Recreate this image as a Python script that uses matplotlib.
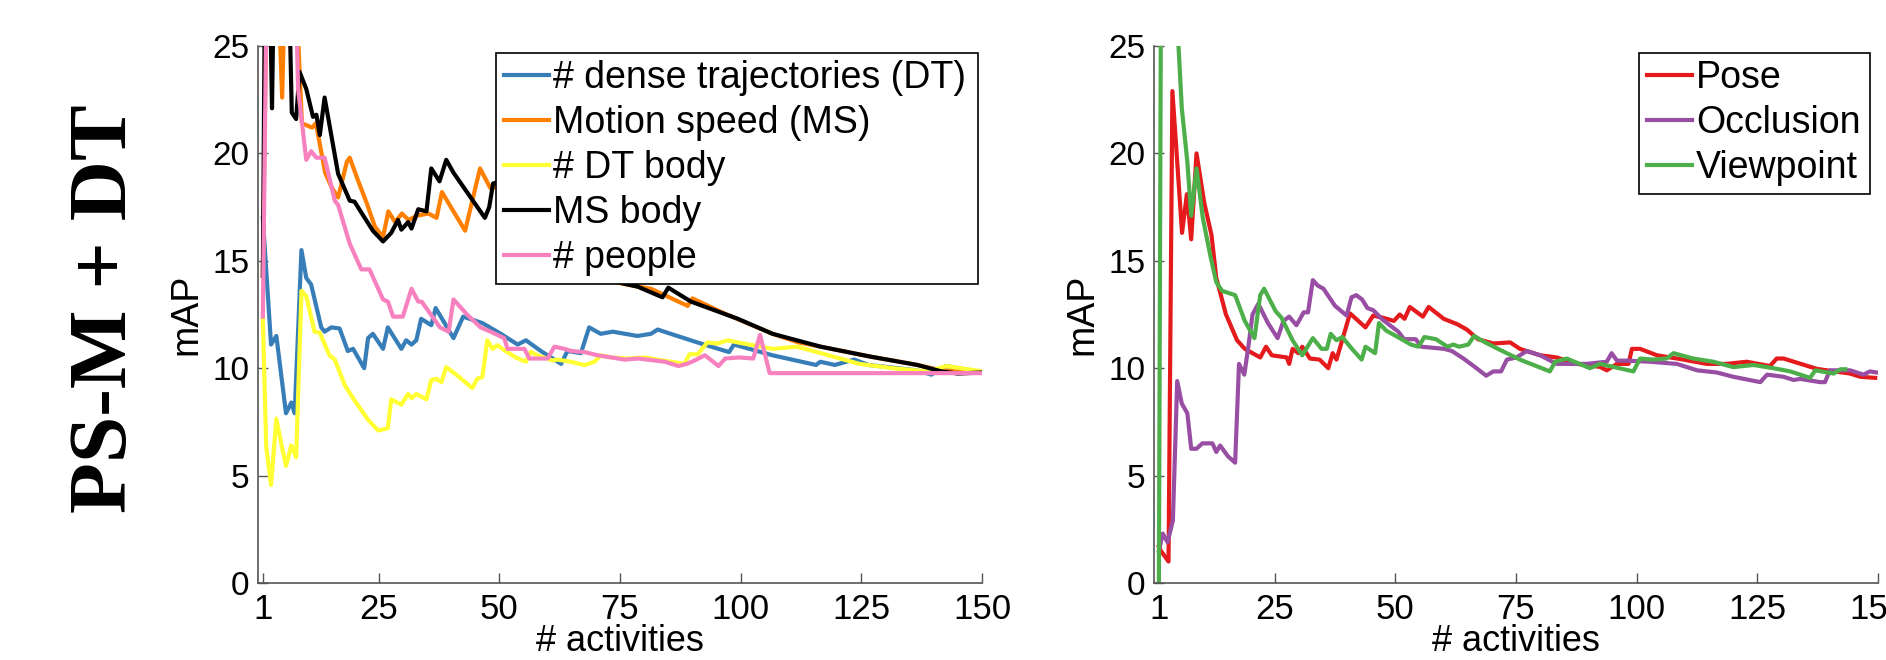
import matplotlib
matplotlib.use("Agg")
import matplotlib.pyplot as plt

plt.rcParams['font.family'] = ['Liberation Sans', 'DejaVu Sans']

# ---- left panel: PS-M + DT cues ----
dt_x = [1, 2.7, 3.8, 5.8, 6.9, 7.6, 9, 10, 11, 13.1, 13.8, 15.2, 16.9, 18.6, 19.7, 22, 22.8,
        23.8, 25.9, 26.9, 29.7, 30.7, 31.8, 32.8, 33.8, 35.9, 36.8, 40.5, 42.5, 46.5, 50.3,
        53.8, 55.5, 58.6, 62.8, 64.1, 66.9, 68.6, 71, 73.5, 78.6, 81.4, 82.8, 85.5, 91.7,
        97.6, 98.6, 106.6, 115.6, 116.5, 119.5, 123.5, 126.5, 136.5, 139.5, 142.5, 150]
dt_y = [17.0, 11.1, 11.5, 7.9, 8.4, 7.9, 15.5, 14.2, 13.9, 11.9, 11.7, 11.9, 11.85, 10.8, 10.9,
        10.0, 11.4, 11.6, 10.9, 11.9, 10.9, 11.3, 11.1, 11.3, 12.3, 12.0, 12.8, 11.4, 12.4,
        12.1, 11.6, 11.1, 11.3, 10.8, 10.2, 10.8, 10.7, 11.9, 11.6, 11.7, 11.5, 11.6, 11.8,
        11.6, 11.15, 10.75, 11.1, 10.6, 10.15, 10.3, 10.15, 10.4, 10.15, 9.9, 9.7, 10.1, 9.8]

ms_x = [1, 2, 4.3, 5, 5.6, 7.8, 9.1, 11.2, 12, 13.9, 15.3, 16.6, 18.4, 19, 20.7, 22.5, 24.2,
        25.9, 27, 28.4, 29.8, 31.2, 32.9, 35.3, 37, 38.1, 42.9, 46, 48.1, 52, 58, 64, 70,
        74.1, 78.6, 81.4, 89, 90, 96.6, 106.6, 112, 116.6, 126.6, 136.6, 141.6, 150]
ms_y = [14.3, 32, 27, 22.6, 28, 28, 21.4, 21.2, 21.4, 19.1, 18.4, 17.95, 19.6, 19.8, 18.75,
        17.7, 16.6, 16.1, 17.3, 16.8, 17.2, 16.9, 17.1, 17.2, 17.0, 18.2, 16.4, 19.3, 18.4,
        18.5, 17.0, 15.8, 14.8, 14.0, 13.8, 13.7, 12.9, 13.25, 12.55, 11.6, 11.2, 11.0,
        10.55, 10.15, 9.9, 9.8]

dtb_x = [1, 1.7, 2.7, 3.8, 4.8, 5.8, 6.9, 7.9, 9, 10, 11.7, 12.8, 14.8, 15.9, 18, 20, 22.8,
         24.9, 26.9, 27.6, 29.7, 31.1, 31.8, 32.8, 34.9, 35.9, 37, 38, 39, 41.6, 44.4, 45.4,
         46.5, 47.5, 48.6, 49.6, 51, 53.4, 55.5, 56.5, 57.9, 61, 62, 64.8, 67.6, 69.7, 71,
         73.2, 76.6, 80, 85.6, 88.3, 89.4, 91.1, 93.1, 95.2, 97.3, 99.4, 106.6, 111.6, 116.6,
         124.6, 131.6, 138.6, 142.6, 150]
dtb_y = [12.3, 6.35, 4.56, 7.65, 6.5, 5.45, 6.4, 5.85, 13.6, 13.35, 11.7, 11.65, 10.6, 10.4,
         9.2, 8.5, 7.6, 7.1, 7.2, 8.55, 8.3, 8.8, 8.6, 8.8, 8.55, 9.45, 9.5, 9.35, 10.05, 9.6,
         9.07, 9.5, 9.6, 11.3, 10.9, 11.07, 10.84, 10.5, 10.3, 10.76, 10.6, 10.36, 10.4, 10.3,
         10.14, 10.3, 10.6, 10.5, 10.45, 10.5, 10.3, 10.2, 10.65, 10.65, 11.2, 11.15, 11.3,
         11.2, 10.9, 11.0, 10.7, 10.2, 10.0, 9.85, 10.1, 9.85]

msb_x = [1, 1.5, 2.3, 2.9, 3.4, 6.2, 7.0, 7.9, 8.6, 10, 11.4, 12.1, 12.8, 13.8, 16.6, 19, 20,
         22.1, 23.8, 25.9, 27.6, 29, 29.7, 31.1, 31.8, 33.2, 34.9, 35.9, 37.6, 39, 40.5, 47,
         47.9, 48.7, 52, 60, 68, 75.5, 78.6, 83.8, 85, 89.7, 99.4, 106.6, 116.6, 126.6,
         136.6, 141.6, 145, 150]
msb_y = [14.3, 30, 30, 22.1, 30, 30, 21.9, 21.6, 23.8, 23.0, 21.7, 21.8, 20.85, 22.6, 19.05,
         17.8, 17.75, 17.0, 16.4, 15.9, 16.3, 16.9, 16.45, 16.8, 16.5, 17.4, 17.3, 19.3,
         18.7, 19.7, 19.1, 17.0, 17.5, 18.6, 18.8, 16.5, 15.0, 13.95, 13.8, 13.3, 13.75,
         13.1, 12.3, 11.6, 11.0, 10.55, 10.15, 9.85, 9.75, 9.8]

ppl_x = [1, 2, 7.6, 8.3, 10, 11, 12.1, 13.8, 15.9, 16.6, 19, 21.4, 23.1, 25.9, 26.9, 28, 30,
         31.8, 33.2, 33.9, 37.7, 39.5, 40.5, 43.3, 46.1, 48.2, 51, 51.7, 55.2, 56.2, 60,
         61.4, 63.5, 64.9, 67.6, 70.4, 73.2, 76, 78.8, 84.3, 87.1, 88.8, 89.9, 92.6, 95.4,
         96.8, 99.6, 102.6, 104, 106, 150]
ppl_y = [12.4, 32, 30, 23.0, 19.7, 20.1, 19.8, 19.8, 17.8, 17.6, 15.8, 14.6, 14.6, 13.2, 13.1,
         12.4, 12.4, 13.7, 13.1, 13.1, 11.9, 11.7, 13.2, 12.5, 11.9, 11.7, 11.4, 10.9, 10.9,
         10.45, 10.45, 11.0, 10.9, 10.8, 10.75, 10.6, 10.5, 10.4, 10.45, 10.3, 10.1, 10.2,
         10.3, 10.6, 10.1, 10.45, 10.5, 10.45, 11.55, 9.77, 9.77]

# ---- right panel: pose / occlusion / viewpoint ----
pose_x = [1, 1.4, 3.0, 3.8, 5.8, 6.8, 7.7, 8.8, 10.4, 11.9, 12.9, 14.9, 17.2, 18.8, 22, 23.2,
          24.4, 27.5, 28, 28.7, 29.9, 30.7, 32.3, 34.3, 36.1, 37, 37.8, 40.6, 43.8, 45.4,
          47.4, 49.7, 50.9, 51.9, 53, 55.7, 56.9, 60, 62.8, 64.8, 67.1, 70.3, 73.8, 75.8,
          80, 83.4, 87.6, 92.4, 93.8, 95.9, 98.3, 99, 100.7, 104.2, 109.7, 114.5, 118.6,
          122.8, 127.6, 129, 130.4, 137.3, 139.4, 144.2, 146.3, 149.4]
pose_y = [1.7, 1.5, 1.0, 22.9, 16.3, 18.1, 16.0, 20.0, 17.7, 16.2, 14.2, 12.5, 11.3, 10.9,
          10.5, 11.0, 10.6, 10.5, 10.2, 10.9, 10.7, 11.0, 10.45, 10.4, 10.0, 10.7, 10.4,
          12.55, 11.9, 12.45, 12.35, 12.2, 12.5, 12.3, 12.85, 12.4, 12.85, 12.3, 12.05,
          11.8, 11.35, 11.15, 11.2, 10.9, 10.6, 10.5, 10.2, 10.06, 9.9, 10.2, 10.2, 10.9,
          10.9, 10.6, 10.4, 10.2, 10.2, 10.3, 10.1, 10.45, 10.45, 9.97, 9.9, 9.75, 9.6, 9.55]

occ_x = [1, 1.8, 2.8, 3.9, 4.8, 5.75, 6.9, 7.7, 8.8, 10, 12.1, 12.9, 13.7, 15.3, 16.8, 17.6,
         18.7, 19.6, 20.4, 21.6, 23.6, 25.6, 26.8, 28, 29.5, 31, 31.9, 32.9, 33.9, 35.1,
         37.5, 39.9, 40.9, 41.9, 43.1, 44.2, 45.4, 47.4, 50.6, 51.8, 54.2, 55.4, 60.1, 61.7,
         64.1, 66.8, 68.8, 70.3, 71.9, 73.1, 75.1, 77.2, 80, 83.4, 89.6, 93.8, 94.8, 95.9,
         98, 102.8, 108.3, 112.5, 116.6, 120, 125.6, 127, 130.4, 132.5, 133.9, 138, 139,
         140, 144.2, 147, 148.3, 149.7]
occ_y = [1.5, 2.3, 1.9, 2.9, 9.4, 8.35, 7.9, 6.25, 6.25, 6.5, 6.5, 6.1, 6.4, 5.9, 5.6, 10.2,
         9.7, 11.1, 12.5, 13.0, 12.1, 11.4, 12.2, 12.4, 12.0, 12.6, 12.6, 14.1, 13.85, 13.7,
         12.9, 12.45, 13.3, 13.4, 13.2, 12.8, 12.7, 12.25, 11.7, 11.35, 11.35, 11.0, 10.9,
         10.8, 10.45, 10.0, 9.65, 9.85, 9.85, 10.4, 10.5, 10.8, 10.6, 10.2, 10.2, 10.3, 10.7,
         10.35, 10.35, 10.3, 10.2, 9.9, 9.8, 9.6, 9.35, 9.7, 9.6, 9.45, 9.5, 9.35, 9.35, 9.9,
         9.9, 9.7, 9.85, 9.8]

view_x = [1, 1.5, 4.6, 5.75, 6.9, 7.7, 8.8, 10.1, 11.7, 12.9, 14.1, 16.8, 18.8, 20.8, 22,
          22.8, 25.2, 26.4, 28.7, 30.7, 32.9, 34.7, 35.8, 36.6, 37.8, 39, 41, 43, 43.8, 45.8,
          46.6, 48.1, 50.9, 53.2, 54.8, 56, 58.4, 60.8, 62, 63.2, 65.1, 66.3, 68.6, 71.7,
          75.8, 82, 83.1, 85.5, 90.3, 92.4, 99.3, 100.7, 103.4, 106.2, 107.6, 111.7, 115.9,
          120, 124.2, 128.3, 131.8, 135.9, 137, 140.8, 142.2, 143.2]
view_y = [0.0, 32, 27, 22.1, 19.6, 17.1, 19.3, 17.0, 15.2, 14.0, 13.6, 13.4, 12.2, 11.4, 13.4,
          13.7, 12.65, 12.35, 11.3, 10.6, 11.4, 10.9, 10.9, 11.6, 11.3, 11.45, 10.9, 10.4,
          11.0, 10.7, 12.1, 11.75, 11.4, 11.1, 11.0, 11.45, 11.35, 11.0, 11.1, 11.0, 11.1,
          11.5, 11.2, 10.85, 10.4, 9.85, 10.3, 10.45, 10.0, 10.2, 9.85, 10.45, 10.4, 10.45,
          10.7, 10.45, 10.3, 10.05, 10.15, 10.0, 9.85, 9.55, 9.9, 9.75, 9.95, 9.95]

left_series = [
    (dt_x, dt_y, '#377eb8', '# dense trajectories (DT)'),
    (ms_x, ms_y, '#ff7f00', 'Motion speed (MS)'),
    (dtb_x, dtb_y, '#ffff33', '# DT body'),
    (msb_x, msb_y, 'black', 'MS body'),
    (ppl_x, ppl_y, '#f781bf', '# people'),
]
right_series = [
    (pose_x, pose_y, '#e41a1c', 'Pose'),
    (occ_x, occ_y, '#984ea3', 'Occlusion'),
    (view_x, view_y, '#4daf4a', 'Viewpoint'),
]

xticks = [1, 25, 50, 75, 100, 125, 150]
yticks = [0, 5, 10, 15, 20, 25]

fig = plt.figure(figsize=(18.86, 6.6), dpi=100)
ax_l = fig.add_axes([0.1368, 0.1167, 0.3839, 0.8136])
ax_r = fig.add_axes([0.6119, 0.1167, 0.3839, 0.8136])


def style_axes(ax):
    ax.set_xlim(0, 150)
    ax.set_ylim(0, 25)
    ax.set_xticks(xticks)
    ax.set_yticks(yticks)
    for s in ['top', 'right']:
        ax.spines[s].set_visible(False)
    for s in ['left', 'bottom']:
        ax.spines[s].set_color('#555555')
        ax.spines[s].set_linewidth(1.2)
    ax.tick_params(direction='in', length=7, width=1, color='#555555')
    ax.tick_params(axis='x', labelsize=25, pad=7)
    ax.tick_params(axis='y', labelsize=24, pad=6)
    ax.set_xlabel('# activities', fontsize=26)
    ax.xaxis.set_label_coords(0.5, -0.076)
    ax.set_ylabel('mAP', fontsize=27)
    ax.yaxis.set_label_coords(-0.0746, 0.5)


for ax, series, bbox in [(ax_l, left_series, (0.329, 0.3, 0.665, 0.687)),
                         (ax_r, right_series, (0.670, 0.3, 0.319, 0.687))]:
    for xs, ys, c, lab in series:
        ax.plot(xs, ys, color=c, lw=3, label=lab)
    style_axes(ax)
    leg = ax.legend(loc='upper left', bbox_to_anchor=bbox, mode='expand',
                    borderaxespad=0, fontsize=27, labelspacing=0.24,
                    handlelength=1.2, handletextpad=0.12, borderpad=0.2,
                    fancybox=False, framealpha=1)
    leg.get_frame().set_edgecolor('black')
    leg.get_frame().set_linewidth(1.2)

# row title on the far left
fig.text(0.0567, 0.532, 'PS-M + DT', rotation=90, ha='center', va='center',
         fontsize=60, fontweight='bold', family='Liberation Serif')

fig.savefig('out.png', dpi=100)
